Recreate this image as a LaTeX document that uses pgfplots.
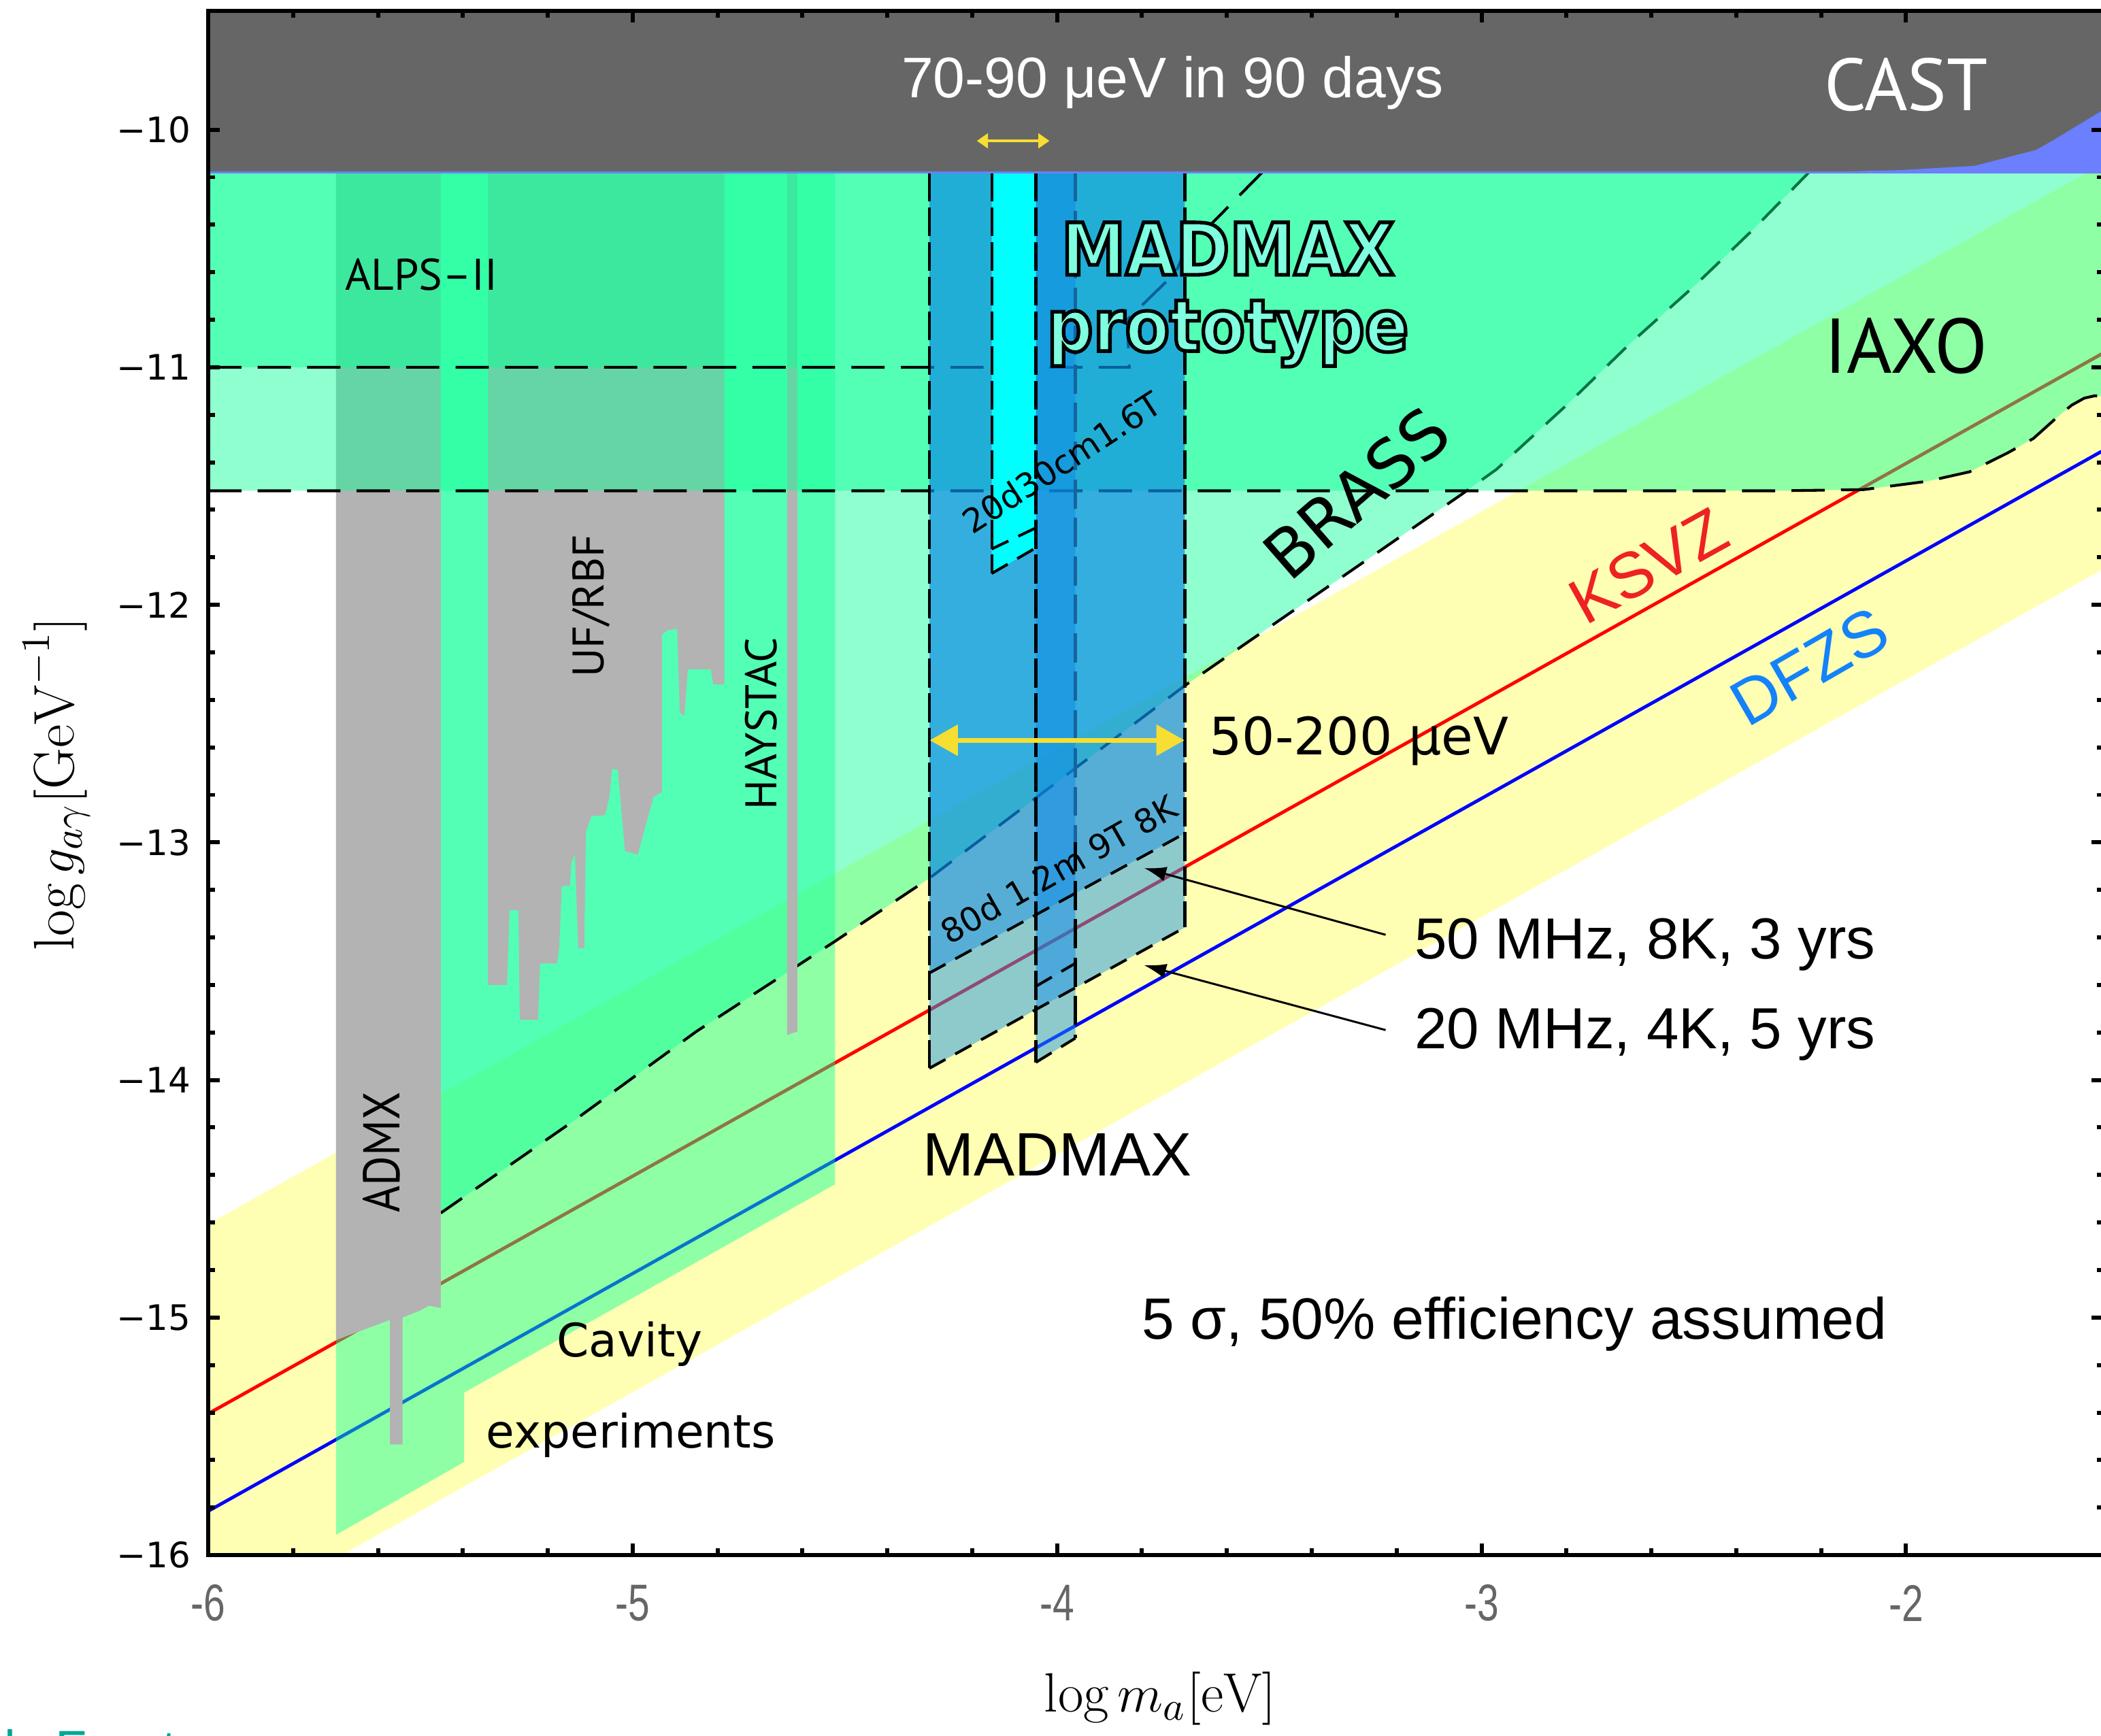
\documentclass[border=0pt]{standalone}
\usepackage{pgfplots}
\pgfplotsset{compat=1.18}
\usepackage{fontspec}
\usetikzlibrary{arrows.meta}

\newfontfamily\libsans{Liberation Sans}
\newfontfamily\libnarrow[FakeStretch=0.75]{Liberation Sans}
\newfontfamily\dejavu{DejaVu Sans}
\newfontfamily\outlinefont{DejaVu Sans Bold}[FakeStretch=0.9, FakeBold=5]
\newfontfamily\ptsans{PT Sans}
\newfontfamily\ptcond[FakeStretch=0.88]{PT Sans}
\newcommand\fs[1]{\fontsize{#1}{#1}\selectfont}
% aqua letters with a black stroke round them
\newcommand\outlined[1]{\textcolor{aqua}{\special{pdf:code 0 0 0 RG}#1}}

\definecolor{qcd}{RGB}{255,255,179}
\definecolor{lsw}{RGB}{12,255,150}
\definecolor{expgray}{RGB}{179,179,179}
\definecolor{castgray}{RGB}{102,102,102}
\definecolor{castblue}{RGB}{107,127,255}
\definecolor{mmblue}{RGB}{11,138,230}
\definecolor{mmlight}{RGB}{30,150,230}
\definecolor{protocyan}{RGB}{0,255,255}
\definecolor{aqua}{RGB}{127,255,224}
\definecolor{arrowyellow}{RGB}{246,222,50}
\definecolor{ksvzlabel}{RGB}{238,34,34}
\definecolor{dfzslabel}{RGB}{20,130,250}
\definecolor{edgeblue}{RGB}{20,100,160}
\definecolor{footteal}{RGB}{0,168,150}

\begin{document}
\begin{tikzpicture}
\begin{axis}[
  x=4.0402cm, y=2.2617cm,
  xmin=-6, xmax=-1.535, ymin=-16, ymax=-9.5,
  axis on top, clip=true,
  xtick={-6,-5,-4,-3,-2},
  xticklabels={-6,-5,-4,-3,-2},
  ytick={-16,-15,-14,-13,-12,-11,-10},
  yticklabels={−16,−15,−14,−13,−12,−11,−10},
  minor x tick num=4, minor y tick num=4,
  tick align=inside,
  major tick length=3.2pt, minor tick length=1.8pt,
  every tick/.style={black, line width=1.1pt},
  axis line style={line width=1.2pt},
  xticklabel style={font=\libnarrow\fs{14}, text=castgray, anchor=center, yshift=-13pt},
  yticklabel style={font=\dejavu\fs{9.5}, anchor=east, inner sep=0pt, xshift=-4.5pt},
  xlabel={$\log m_a[\mathrm{eV}]$},
  ylabel={$\log g_{a\gamma}[\mathrm{GeV}^{-1}]$},
  xlabel style={at={(axis description cs:0.5024,-0.0929)}, anchor=center, font=\fs{15}},
  ylabel style={at={(axis description cs:-0.0801,0.4995)}, anchor=center, font=\fs{15.5}},
]

% QCD axion band
\addplot[fill=qcd, draw=none] coordinates {(-6.5,-15.107) (-1.0,-9.607) (-1.0,-11.314) (-6.5,-16.814)} -- cycle;

% KSVZ and DFZS model lines
\addplot[red, line width=0.9pt] coordinates {(-6.05,-15.455) (-1.5,-10.905)};
\addplot[blue, line width=0.9pt] coordinates {(-6.05,-15.865) (-1.5,-11.315)};

% cavity experiments
\addplot[fill=lsw, fill opacity=0.46, draw=none] coordinates {(-5.699,-9.5) (-5.699,-15.915) (-5.397,-15.608) (-5.397,-15.316) (-4.523,-14.439) (-4.523,-9.5)} -- cycle;

% BRASS
\addplot[fill=lsw, fill opacity=0.46, draw=none] coordinates {(-5.452,-11.0) (-5.452,-14.56) (-5.142,-14.176) (-4.850,-13.796) (-4.523,-13.416) (-4.301,-13.151) (-3.699,-12.340) (-3.047,-11.535) (-2.965,-11.43) (-2.80,-11.16) (-2.65,-10.90) (-2.50,-10.66) (-2.36,-10.42) (-2.229,-10.18) (-2.0,-9.5) (-3.40,-9.5) (-3.517,-10.18) (-3.699,-10.51) (-3.72,-10.60) (-3.835,-10.80) (-3.83,-11.0)} -- cycle;
\addplot[black, line width=0.75pt, dash pattern=on 7pt off 4.5pt] coordinates {(-5.452,-14.56) (-5.142,-14.176) (-4.850,-13.796) (-4.523,-13.416) (-4.301,-13.151) (-3.699,-12.340) (-3.047,-11.535) (-2.965,-11.43) (-2.80,-11.16) (-2.65,-10.90) (-2.50,-10.66) (-2.36,-10.42) (-2.229,-10.18) (-2.0,-9.5)};

% ADMX
\addplot[fill=expgray, draw=none] coordinates {(-5.699,-9.5) (-5.699,-15.095) (-5.572,-15.01) (-5.572,-15.534) (-5.542,-15.534) (-5.542,-15.0) (-5.50,-14.97) (-5.48,-14.95) (-5.452,-14.96) (-5.452,-9.5)} -- cycle;
% UF/RBF
\addplot[fill=expgray, draw=none] coordinates {(-5.341,-9.5) (-5.341,-13.600) (-5.296,-13.600) (-5.290,-13.285) (-5.269,-13.285) (-5.266,-13.747) (-5.223,-13.747) (-5.218,-13.510) (-5.178,-13.510) (-5.173,-13.446) (-5.167,-13.183) (-5.148,-13.183) (-5.144,-13.080) (-5.136,-13.051) (-5.128,-13.446) (-5.114,-13.446) (-5.110,-12.955) (-5.097,-12.890) (-5.065,-12.885) (-5.054,-12.803) (-5.049,-12.692) (-5.035,-12.692) (-5.018,-13.037) (-4.988,-13.051) (-4.951,-12.809) (-4.931,-12.788) (-4.931,-12.125) (-4.917,-12.107) (-4.895,-12.101) (-4.889,-12.452) (-4.878,-12.467) (-4.870,-12.271) (-4.816,-12.271) (-4.810,-12.335) (-4.784,-12.335) (-4.784,-9.5)} -- cycle;
% HAYSTAC
\addplot[fill=expgray, draw=none] coordinates {(-4.636,-9.5) (-4.636,-13.811) (-4.612,-13.796) (-4.612,-9.5)} -- cycle;

% IAXO
\addplot[fill=lsw, fill opacity=0.46, draw=none] coordinates {(-6.1,-11.52) (-2.3,-11.52) (-2.1,-11.515) (-1.95,-11.48) (-1.85,-11.44) (-1.76,-11.36) (-1.70,-11.30) (-1.65,-11.22) (-1.61,-11.16) (-1.58,-11.13) (-1.555,-11.12) (-1.5,-11.13) (-1.5,-9.5) (-6.1,-9.5)} -- cycle;
% ALPS-II
\addplot[fill=lsw, fill opacity=0.46, draw=none] coordinates {(-6.1,-9.5) (-6.1,-11.0) (-3.83,-11.0) (-3.835,-10.80) (-3.72,-10.60) (-3.699,-10.51) (-3.517,-10.18) (-3.40,-9.5)} -- cycle;

\addplot[black, line width=0.75pt, dash pattern=on 9pt off 4.4pt] coordinates {(-6,-11.52) (-2.3,-11.52) (-2.1,-11.515) (-1.95,-11.48) (-1.85,-11.44) (-1.76,-11.36) (-1.70,-11.30) (-1.65,-11.22) (-1.61,-11.16) (-1.58,-11.13) (-1.555,-11.12) (-1.5,-11.13)};
\addplot[black, line width=0.75pt, dash pattern=on 9pt off 4.4pt] coordinates {(-6,-11.0) (-3.83,-11.0) (-3.835,-10.80) (-3.72,-10.60) (-3.699,-10.51) (-3.517,-10.18)};

% MADMAX
\addplot[fill=mmblue, fill opacity=0.69, draw=none] coordinates {(-4.301,-10.18) (-4.301,-13.55) (-3.699,-12.962) (-3.699,-10.18)} -- cycle;
\addplot[fill=mmlight, fill opacity=0.5, draw=none] coordinates {(-4.301,-13.55) (-4.301,-13.951) (-3.699,-13.358) (-3.699,-12.962)} -- cycle;
\addplot[fill=mmblue, fill opacity=0.5, draw=none] coordinates {(-4.05,-10.18) (-4.05,-13.606) (-3.957,-13.509) (-3.957,-10.18)} -- cycle;
\addplot[fill=mmlight, fill opacity=0.5, draw=none] coordinates {(-4.05,-13.606) (-4.05,-13.926) (-3.957,-13.824) (-3.957,-13.509)} -- cycle;
% prototype
\addplot[fill=protocyan, draw=none] coordinates {(-4.154,-10.18) (-4.154,-11.868) (-4.05,-11.76) (-4.05,-10.18)} -- cycle;

\addplot[black, line width=0.75pt, dash pattern=on 7.9pt off 1.5pt] coordinates {(-4.301,-10.18) (-4.301,-13.951)};
\addplot[black, line width=0.75pt, dash pattern=on 7.9pt off 1.5pt] coordinates {(-3.699,-10.18) (-3.699,-13.358)};
\addplot[black, line width=0.75pt, dash pattern=on 5pt off 3pt] coordinates {(-4.301,-13.55) (-3.699,-12.962)};
\addplot[black, line width=0.75pt, dash pattern=on 5pt off 3pt] coordinates {(-4.301,-13.951) (-3.699,-13.358)};
\addplot[black, line width=0.75pt, dash pattern=on 7.9pt off 1.5pt] coordinates {(-4.154,-10.18) (-4.154,-11.868)};
\addplot[black, line width=0.75pt, dash pattern=on 7.9pt off 1.5pt] coordinates {(-4.05,-10.18) (-4.05,-13.926)};
\addplot[black, line width=0.75pt, dash pattern=on 5pt off 3pt] coordinates {(-4.154,-11.868) (-4.05,-11.76)};
\addplot[black, line width=0.75pt, dash pattern=on 5pt off 3pt] coordinates {(-4.154,-11.765) (-4.05,-11.676)};
\addplot[edgeblue, line width=0.75pt, dash pattern=on 7.9pt off 2.5pt] coordinates {(-3.957,-10.18) (-3.957,-13.0)};
\addplot[black, line width=0.75pt, dash pattern=on 7.9pt off 2.5pt] coordinates {(-3.957,-13.0) (-3.957,-13.824)};
\addplot[black, line width=0.75pt, dash pattern=on 5pt off 3pt] coordinates {(-4.05,-13.606) (-3.957,-13.509)};
\addplot[black, line width=0.75pt, dash pattern=on 5pt off 3pt] coordinates {(-4.05,-13.926) (-3.957,-13.824)};

% CAST
\addplot[fill=castgray, draw=none] coordinates {(-6.1,-10.18) (-1.5,-10.18) (-1.5,-9.4) (-6.1,-9.4)} -- cycle;
\addplot[fill=castblue, draw=none] coordinates {(-2.237,-10.18) (-2.010,-10.170) (-1.838,-10.152) (-1.693,-10.085) (-1.647,-10.038) (-1.52,-9.90) (-1.52,-10.18)} -- cycle;
\addplot[castblue, line width=0.5pt] coordinates {(-6.1,-10.18) (-1.5,-10.18)};

% arrows
\addplot[arrowyellow, line width=0.6pt, {Triangle[length=3pt,width=4pt]}-{Triangle[length=3pt,width=4pt]}] coordinates {(-4.189,-10.047) (-4.018,-10.047)};
\addplot[arrowyellow, line width=1.3pt, {Triangle[length=7.6pt,width=8.2pt]}-{Triangle[length=7.6pt,width=8.2pt]}] coordinates {(-4.30,-12.57) (-3.70,-12.57)};
\addplot[black, line width=0.55pt, -{Latex[length=6pt,width=4pt]}] coordinates {(-3.226,-13.389) (-3.795,-13.108)};
\addplot[black, line width=0.55pt, -{Latex[length=6pt,width=4pt]}] coordinates {(-3.226,-13.79) (-3.795,-13.517)};

% labels
\node[font=\libsans\fs{15.5}, text=white] at (axis cs:-3.728,-9.804) {70-90 μeV in 90 days};
\node[font=\ptsans\fs{20}, text=white] at (axis cs:-2.0,-9.81) {CAST};
\node[font=\ptsans\fs{21}] at (axis cs:-2.0,-10.91) {IAXO};
\node[font=\ptsans\fs{12}] at (axis cs:-5.498,-10.611) {ALPS–II};
\node[anchor=base, font=\outlinefont\fs{19.5}] at (axis cs:-3.598,-10.611) {\outlined{MADMAX}};
\node[anchor=base, font=\outlinefont\fs{19.5}] at (axis cs:-3.598,-10.932) {\outlined{prototype}};
\node[font=\dejavu\fs{18}, rotate=41] at (axis cs:-3.295,-11.53) {BRASS};
\node[font=\libsans\fs{17.5}, text=ksvzlabel, rotate=29] at (axis cs:-2.607,-11.836) {KSVZ};
\node[font=\libsans\fs{17.5}, text=dfzslabel, rotate=30] at (axis cs:-2.228,-12.26) {DFZS};
\node[anchor=west, inner sep=0pt, font=\dejavu\fs{14}] at (axis cs:-3.643,-12.574) {50-200 μeV};
\node[anchor=west, inner sep=0pt, font=\libsans\fs{15.7}] at (axis cs:-3.159,-13.43) {50 MHz, 8K, 3 yrs};
\node[anchor=west, inner sep=0pt, font=\libsans\fs{15.7}] at (axis cs:-3.159,-13.807) {20 MHz, 4K, 5 yrs};
\node[font=\libsans\fs{16.6}] at (axis cs:-3.999,-14.316) {MADMAX};
\node[font=\libsans\fs{15.8}] at (axis cs:-2.923,-15.027) {5 σ, 50\% efficiency assumed};
\node[font=\dejavu\fs{12.5}] at (axis cs:-5.007,-15.111) {Cavity};
\node[font=\dejavu\fs{12.5}] at (axis cs:-5.004,-15.495) {experiments};
\node[font=\ptcond\fs{14}, rotate=90] at (axis cs:-5.591,-14.305) {ADMX};
\node[font=\ptsans\fs{12}, rotate=90] at (axis cs:-5.097,-12.005) {UF/RBF};
\node[font=\ptsans\fs{12}, rotate=90] at (axis cs:-4.697,-12.50) {HAYSTAC};
\node[font=\dejavu\fs{9}, rotate=33] at (axis cs:-3.989,-11.40) {20d30cm1.6T};
\node[font=\dejavu\fs{9}, rotate=29.5] at (axis cs:-3.996,-13.113) {80d 1.2m 9T 8K};

\coordinate (BL) at (axis cs:-6.4905,-16.759);
\coordinate (TR) at (axis cs:-1.5405,-9.4539);
\coordinate (FOOT) at (axis cs:-6.4825,-16.892);
\end{axis}
\node[anchor=base west, inner sep=0pt, font=\libsans\fs{14}, text=footteal] at (FOOT) {ly Front};
\pgfresetboundingbox
\useasboundingbox (BL) rectangle (TR);
\end{tikzpicture}
\end{document}
